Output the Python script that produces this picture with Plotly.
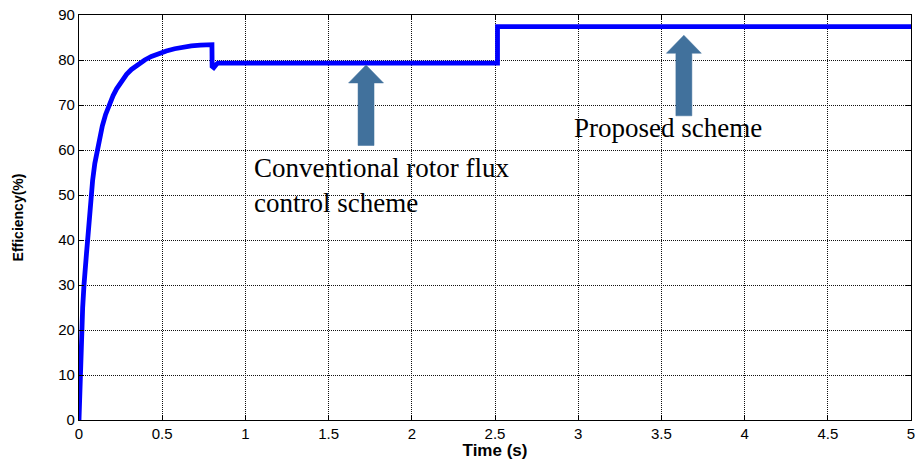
import plotly.graph_objects as go

# Simulated drive efficiency versus time
time_s = [0.0, 0.004, 0.006, 0.010, 0.012, 0.018, 0.022, 0.030, 0.036, 0.045,
          0.052, 0.062, 0.072, 0.082, 0.095, 0.112, 0.125, 0.140, 0.160, 0.186,
          0.205, 0.226, 0.255, 0.286, 0.315, 0.345, 0.395, 0.435, 0.475, 0.525,
          0.575, 0.625, 0.675, 0.730, 0.785, 0.799, 0.800, 0.810, 0.825, 0.835,
          2.515, 2.515, 5.000]
efficiency = [0.0, 6.0, 10.0, 14.0, 20.0, 23.0, 25.0, 30.0, 32.0, 37.0,
              40.0, 45.0, 49.5, 53.3, 57.0, 60.4, 62.9, 65.3, 67.9, 70.5,
              72.1, 73.6, 75.3, 76.8, 77.9, 78.8, 80.0, 80.8, 81.4, 82.0,
              82.5, 82.9, 83.15, 83.3, 83.4, 83.4, 78.6, 78.3, 79.0, 79.3,
              79.3, 87.4, 87.4]

x_ticks = [0, 0.5, 1, 1.5, 2, 2.5, 3, 3.5, 4, 4.5, 5]
y_ticks = [0, 10, 20, 30, 40, 50, 60, 70, 80, 90]

labels = ["Conventional rotor flux<br>control scheme", "Proposed scheme"]

# Block arrows pointing at the two efficiency levels: (x centre, tip, head base, tail)
arrow_specs = [(1.725, 78.9, 74.9, 61.0), (3.635, 85.5, 81.5, 67.6)]
ARROW_COLOR = "#41719C"
SHAFT_HALF = 0.048
HEAD_HALF = 0.105

fig = go.Figure()
fig.add_trace(go.Scatter(
    x=time_s, y=efficiency, mode="lines",
    line=dict(color="#0000FF", width=4.8),
    showlegend=False, hoverinfo="skip",
))


def arrow_path(xc, tip, base, tail):
    pts = [
        (xc - SHAFT_HALF, tail), (xc - SHAFT_HALF, base), (xc - HEAD_HALF, base),
        (xc, tip), (xc + HEAD_HALF, base), (xc + SHAFT_HALF, base),
        (xc + SHAFT_HALF, tail),
    ]
    return "M " + " L ".join(f"{x},{y}" for x, y in pts) + " Z"


for xc, tip, base, tail in arrow_specs:
    fig.add_shape(type="path", path=arrow_path(xc, tip, base, tail),
                  xref="x", yref="y", fillcolor=ARROW_COLOR,
                  line=dict(color=ARROW_COLOR, width=0.5), layer="above")

text_font = dict(family="Liberation Serif, Times New Roman, serif", size=27, color="black")
fig.add_annotation(x=1.042, y=52.2, xref="x", yref="y", text=labels[0],
                   showarrow=False, xanchor="left", yanchor="middle",
                   align="left", font=text_font)
fig.add_annotation(x=2.964, y=65.0, xref="x", yref="y", text=labels[1],
                   showarrow=False, xanchor="left", yanchor="middle",
                   align="left", font=text_font)

axis_font = dict(family="Liberation Sans, Arial, sans-serif", size=15, color="black")
common_axis = dict(
    showline=True, linecolor="black", linewidth=1.3, mirror="ticks",
    ticks="inside", ticklen=5, tickcolor="black",
    showgrid=True, gridcolor="#111111", gridwidth=1, griddash="1px,1px",
    zeroline=False, tickfont=axis_font,
)

fig.update_xaxes(range=[0, 5], tickvals=x_ticks,
                 ticktext=[f"{v:g}" for v in x_ticks],
                 title=dict(text="<b>Time (s)</b>", standoff=2,
                            font=dict(family="Liberation Sans, Arial, sans-serif",
                                      size=17, color="black")),
                 **common_axis)
fig.update_yaxes(range=[0, 90], tickvals=y_ticks,
                 ticktext=[str(v) for v in y_ticks],
                 title=dict(text="<b>Efficiency(%)</b>", standoff=31,
                            font=dict(family="Liberation Sans, Arial, sans-serif",
                                      size=14, color="black")),
                 **common_axis)

fig.update_layout(
    width=919, height=460,
    margin=dict(l=79, r=4, t=15, b=37),
    paper_bgcolor="white", plot_bgcolor="white",
)

fig.write_html("out.html")
